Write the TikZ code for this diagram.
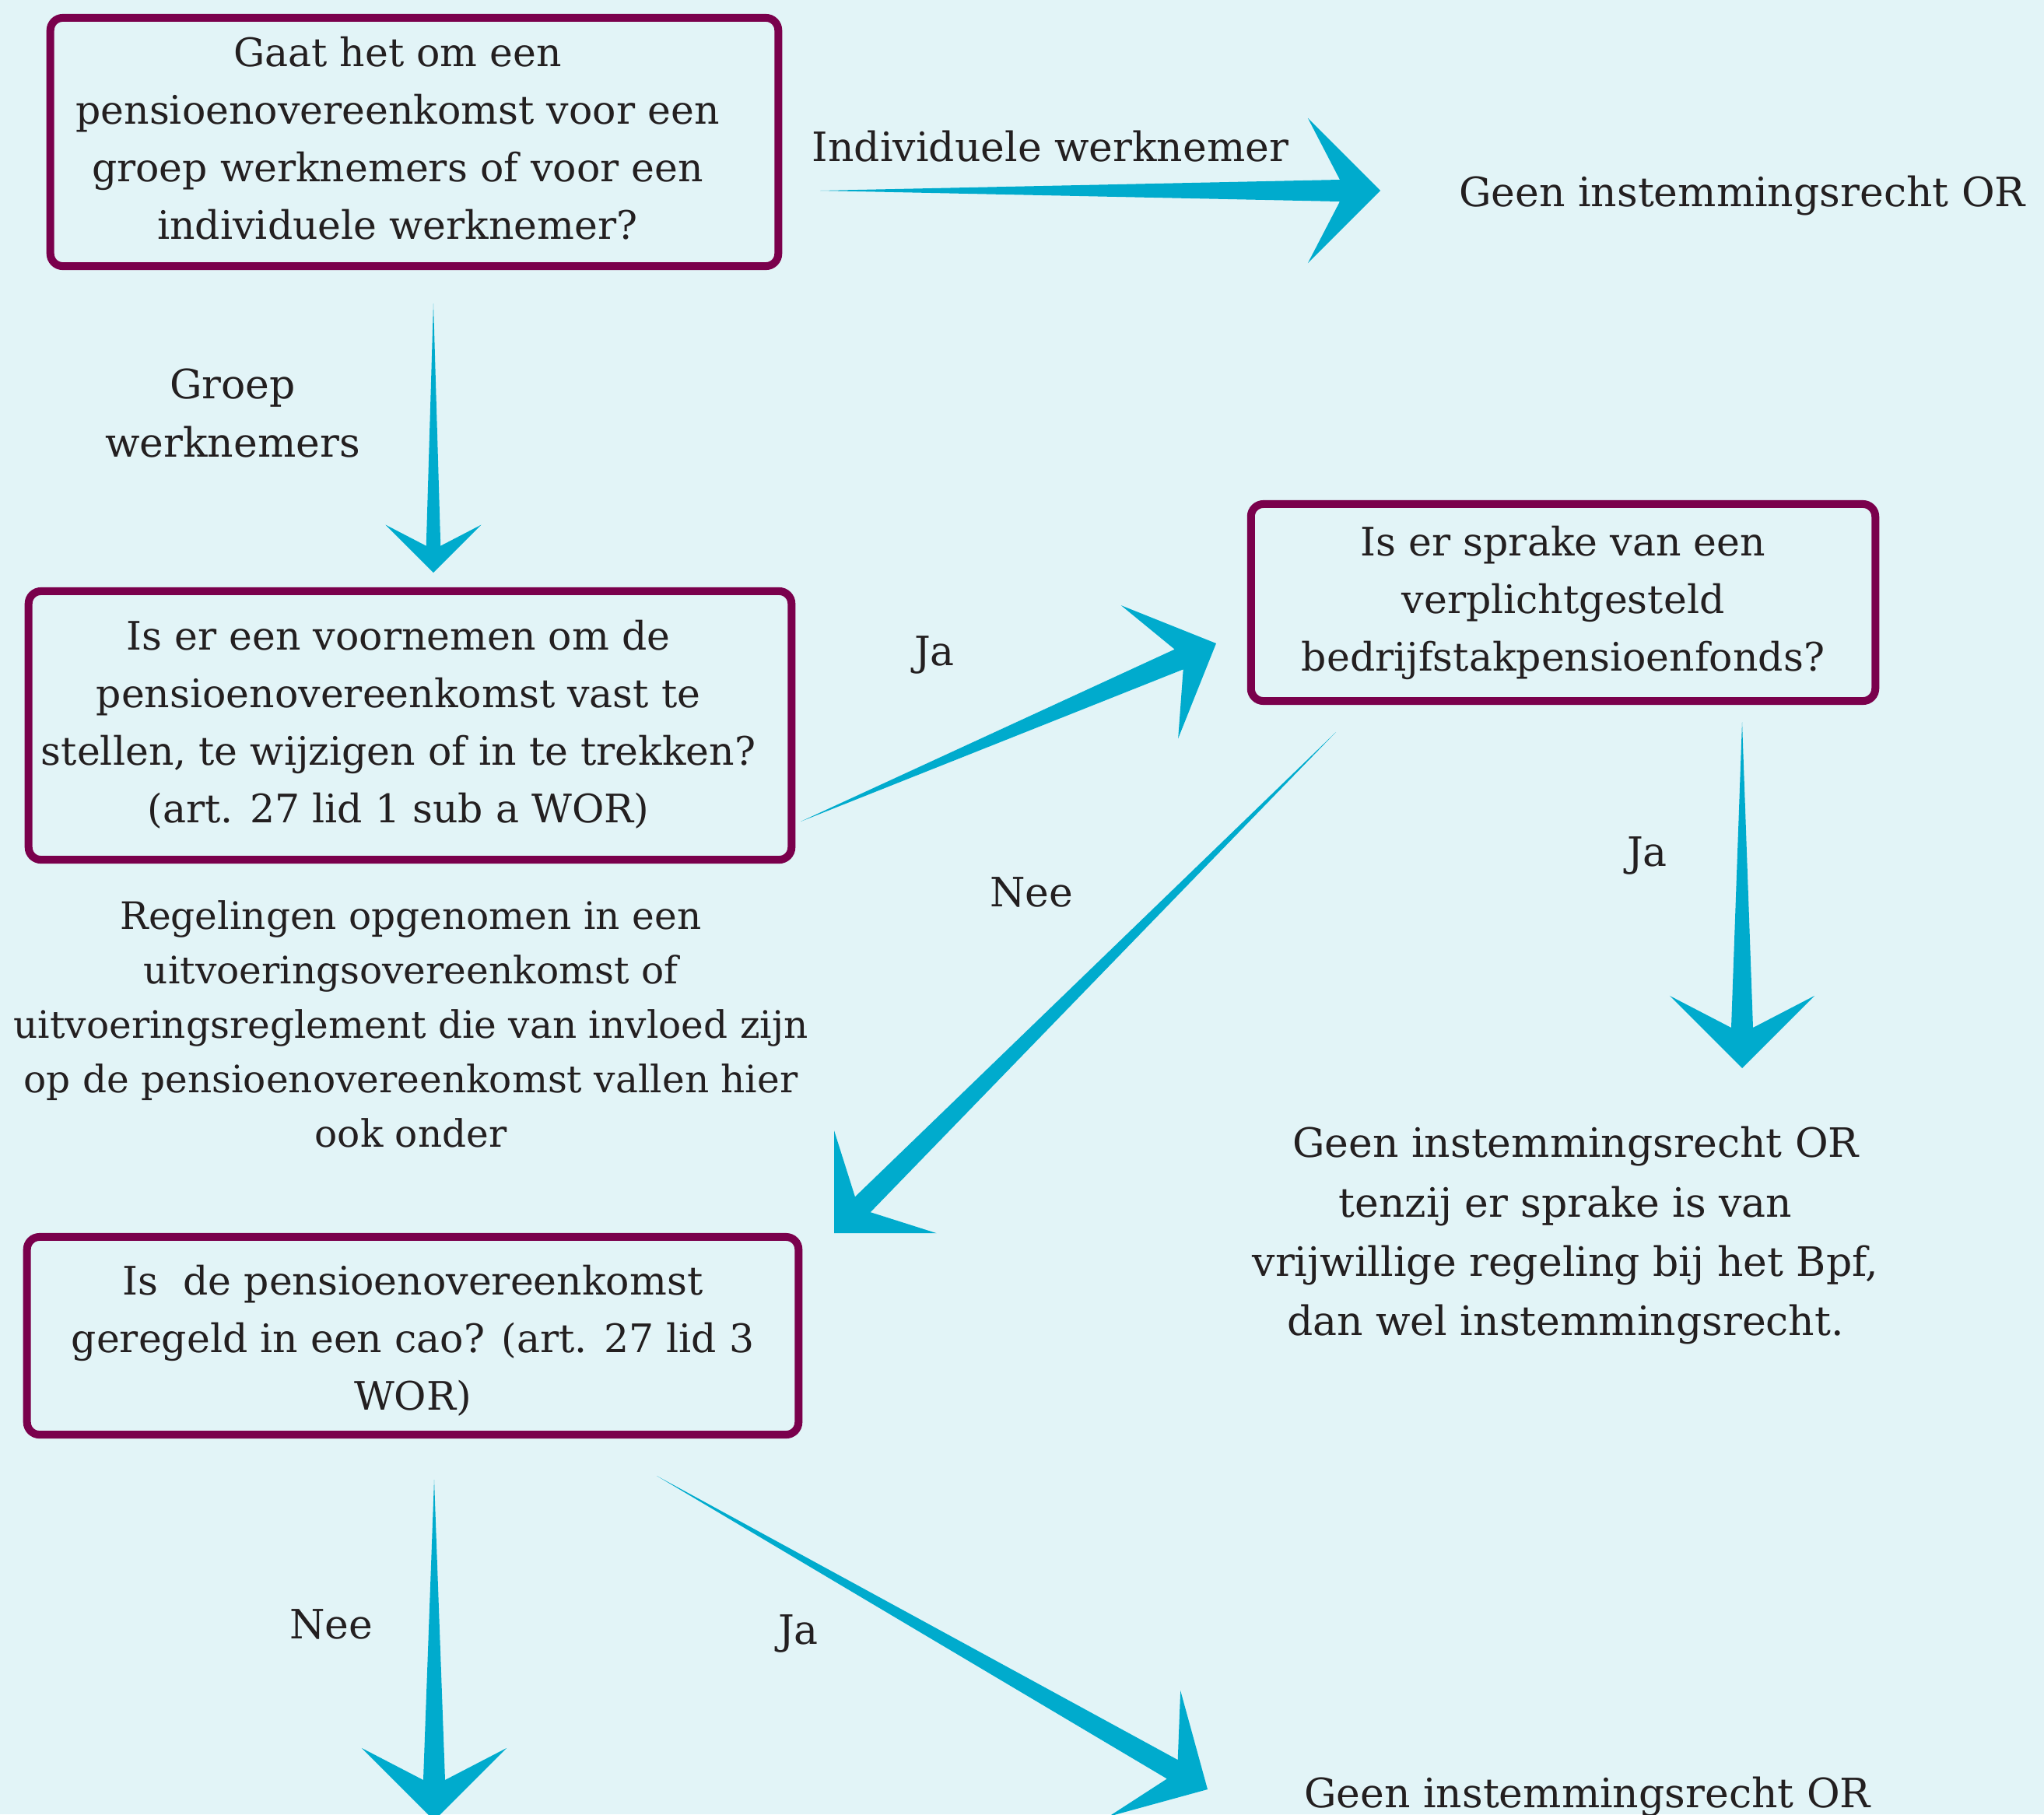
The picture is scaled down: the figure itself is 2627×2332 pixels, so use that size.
\documentclass[tikz,border=0pt]{standalone}
\usepackage{fontspec}
\setmainfont{DejaVu Serif}
\usetikzlibrary{calc}
\definecolor{bgcol}{HTML}{E2F4F7}
\definecolor{boxcol}{HTML}{7A004C}
\definecolor{arrcol}{HTML}{00ABCD}
\definecolor{txtcol}{HTML}{231F20}
\newcommand\lnst{\rule[-0.25em]{0pt}{1.05em}}
% tapered arrow: #1 head scale, #2 tail coordinate, #3 tip coordinate
\newcommand\taparrow[3]{%
  \pgfmathsetlengthmacro\tjb{0.52cm*#1}%
  \pgfmathsetlengthmacro\tjw{0.14cm*#1}%
  \pgfmathsetlengthmacro\tbb{0.93cm*#1}%
  \path coordinate (tJ) at ($(#3)!\tjb!(#2)$)
        coordinate (tB) at ($(#3)!\tbb!(#2)$);
  \fill[arrowfill] (#2) -- ($(tJ)!\tjw!90:(#3)$) -- ($(tB)!\tbb!90:(#3)$) -- (#3)
     -- ($(tB)!\tbb!-90:(#3)$) -- ($(tJ)!\tjw!-90:(#3)$) -- cycle;}
\begin{document}
\begin{tikzpicture}[x=0.01cm,y=-0.01cm,
  qbox/.style={draw=boxcol, line width=0.1cm, rounded corners=0.16cm, inner sep=0pt,
    align=center, text=txtcol, font={\fontsize{14.35pt}{21.05pt}\selectfont}},
  qtxt/.style={inner sep=0pt, align=center, text=txtcol, font={\fontsize{14.35pt}{21.05pt}\selectfont}},
  lbl/.style={inner sep=0pt, text=txtcol, font={\fontsize{14.79pt}{21.05pt}\selectfont}},
  arrowfill/.style={fill=arrcol}]
\fill[bgcol] (0,0) rectangle (2627,2332);
\useasboundingbox (0,0) rectangle (2627,2332);
\clip (0,0) rectangle (2627,2332);

% question boxes
\node[qbox, minimum width=9.35cm, minimum height=3.19cm] (q1) at (532.5,182.5) {};
\node[qtxt] (q1t) at (511,182.5)
  {\lnst Gaat het om een\\\lnst pensioenovereenkomst voor een\\\lnst groep werknemers of voor een\\\lnst individuele werknemer?};
\node[qbox, minimum width=9.80cm, minimum height=3.45cm] (q2) at (527,932.5) {};
\node[qtxt] (q2t) at (512,932.5)
  {\lnst Is er een voornemen om de\\\lnst pensioenovereenkomst vast te\\\lnst stellen, te wijzigen of in te trekken?\\\lnst (art. 27 lid 1 sub a WOR)};
\node[qbox, minimum width=8.02cm, minimum height=2.53cm] (q3) at (2009,774.5)
  {\lnst Is er sprake van een\\\lnst verplichtgesteld\\\lnst bedrijfstakpensioenfonds?};
\node[qbox, minimum width=9.91cm, minimum height=2.54cm] (q4) at (530.5,1717)
  {\rule{0pt}{\dimexpr0.8em+0.16cm\relax}\lnst Is\ \ de pensioenovereenkomst\\\lnst geregeld in een cao? (art. 27 lid 3\\\lnst WOR)};

% free texts
\node[lbl, align=center, font={\fontsize{13.8pt}{19.92pt}\selectfont}] (note) at (528,1321)
  {\lnst Regelingen opgenomen in een\\\lnst uitvoeringsovereenkomst of\\\lnst uitvoeringsreglement die van invloed zijn\\\lnst op de pensioenovereenkomst vallen hier\\\lnst ook onder};
\node[lbl, align=center, font={\fontsize{14.79pt}{21.7pt}\selectfont}] (r2) at (2012,1588)
  {\lnst\hspace*{0.26cm}Geen instemmingsrecht OR\\\lnst tenzij er sprake is van\\\lnst vrijwillige regeling bij het Bpf,\\\lnst dan wel instemmingsrecht.};
\node[lbl, anchor=base] (r1) at (2239,265) {Geen instemmingsrecht OR};
\node[lbl, anchor=base] (r3) at (2040,2323) {Geen instemmingsrecht OR};

% labels
\node[lbl, anchor=base] (lind) at (1350,207) {Individuele werknemer};
\node[lbl, align=center, font={\fontsize{14.79pt}{21.3pt}\selectfont}] (lgroep) at (299,536)
  {\lnst Groep\\\lnst werknemers};
\node[lbl, anchor=base] (lja1) at (1201,855) {Ja};
\node[lbl, anchor=base] (lnee1) at (1326,1165) {Nee};
\node[lbl, anchor=base] (lja2) at (2117,1113) {Ja};
\node[lbl, anchor=base] (lnee2) at (426,2106) {Nee};
\node[lbl, anchor=base] (lja3) at (1026,2113) {Ja};

% arrow end points
\coordinate (aS) at (1054,245);  \coordinate (aE) at (1774,245);
\coordinate (bS) at (557,390);   \coordinate (bE) at (557,736);
\coordinate (cS) at (1029,1056); \coordinate (cE) at (1563,827);
\coordinate (dS) at (1717,941);  \coordinate (dE) at (1072,1585);
\coordinate (eS) at (2239,928);  \coordinate (eE) at (2239,1373);
\coordinate (fS) at (558,1902);  \coordinate (fE) at (558,2340);
\coordinate (gS) at (844,1897);  \coordinate (gE) at (1552,2300);

\taparrow{1}{aS}{aE}
\taparrow{0.66}{bS}{bE}
\taparrow{1}{cS}{cE}
\taparrow{1}{dS}{dE}
\taparrow{1}{eS}{eE}
\taparrow{1}{fS}{fE}
\taparrow{1}{gS}{gE}
\end{tikzpicture}
\end{document}
